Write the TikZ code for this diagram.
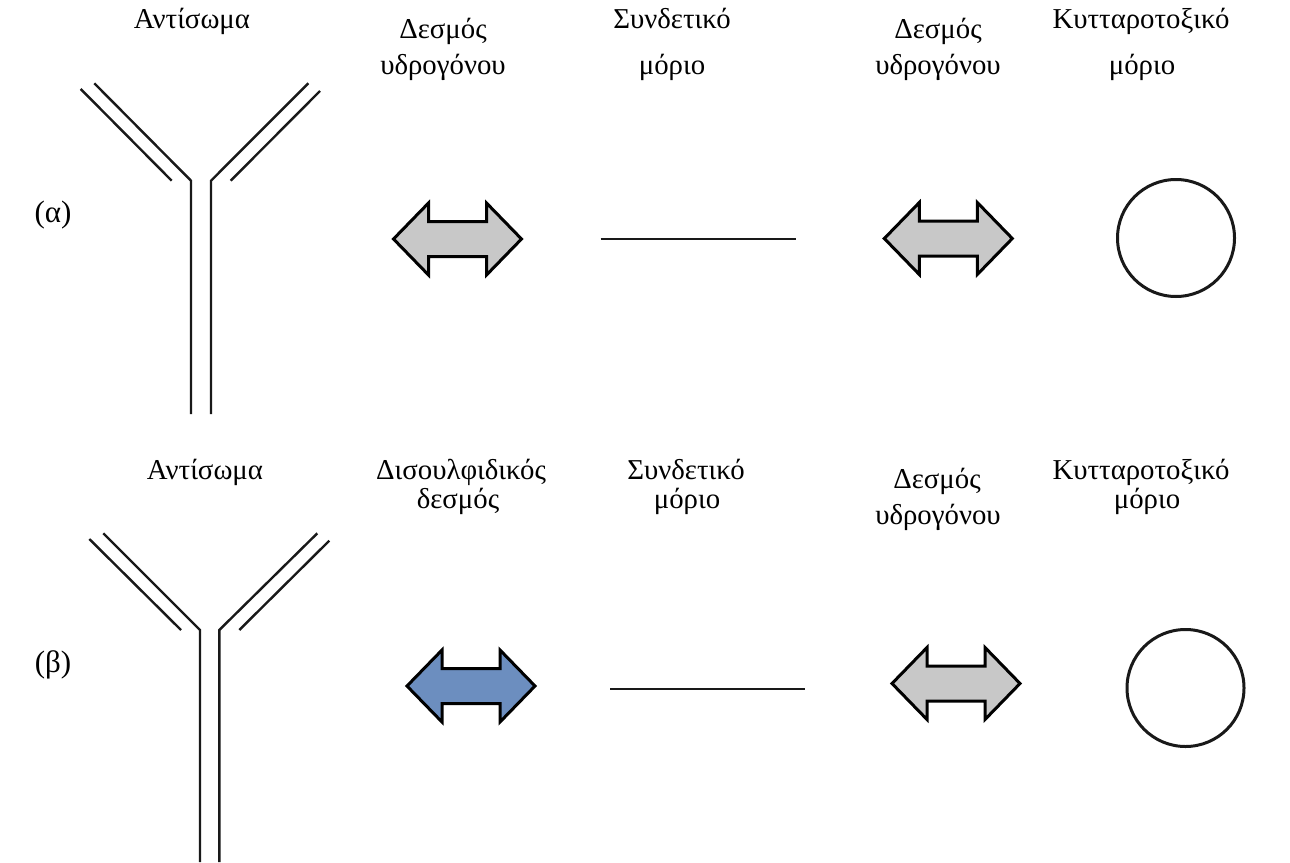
\documentclass[tikz,border=0pt]{standalone}
\usepackage{fontspec}
\setmainfont{Liberation Serif}
\definecolor{arrowgray}{RGB}{200,200,200}
\definecolor{arrowblue}{RGB}{108,142,191}
\tikzset{
  lbl/.style={font=\fontsize{28.8}{34}\selectfont, inner sep=0pt, anchor=base},
  tag/.style={font=\fontsize{31}{36}\selectfont, inner sep=0pt},
  chain/.style={line width=2.4pt, line join=miter, black!90},
  linker/.style={line width=2.2pt, black!90},
  toxin/.style={line width=3pt, black!90},
  pics/dblarrow/.style={code={
    \draw[line width=3pt, line join=miter, fill=#1]
      (-64,0) -- (-29,-36) -- (-29,-17.5) -- (29,-17.5) -- (29,-36) -- (64,0)
      -- (29,36) -- (29,17.5) -- (-29,17.5) -- (-29,36) -- cycle;
  }}
}
\begin{document}
\begin{tikzpicture}[x=1pt, y=-1pt]
\useasboundingbox (0,0) rectangle (1290,862);

% ---- row (alpha) ----
\node[tag] (ta) at (53,215) {(α)};
\node[lbl] (ab1) at (192,28) {Αντίσωμα};
\node[lbl] (hb1a) at (443,38) {Δεσμός};
\node[lbl] (hb1b) at (443,74.5) {υδρογόνου};
\node[lbl] (lk1a) at (672,28) {Συνδετικό};
\node[lbl] (lk1b) at (672,74.5) {μόριο};
\node[lbl] (hb2a) at (938,38) {Δεσμός};
\node[lbl] (hb2b) at (938,74.5) {υδρογόνου};
\node[lbl] (cy1a) at (1141,28) {Κυτταροτοξικό};
\node[lbl] (cy1b) at (1142,74.5) {μόριο};

% antibody
\draw[chain] (80.7,89) -- (171.7,180.7);
\draw[chain] (94.3,83.3) -- (191,180.7) -- (191,414);
\draw[chain] (308.3,83.3) -- (211,180.7) -- (211,414);
\draw[chain] (320,91) -- (230.7,180.7);

\pic at (457.5,239) {dblarrow=arrowgray};
\draw[linker] (600.7,239) -- (796,239);
\pic at (948.3,238.5) {dblarrow=arrowgray};
\draw[toxin] (1176,238) circle (58.5);

% ---- row (beta) ----
\node[tag] (tb) at (53,665) {(β)};
\node[lbl] (ab2) at (205,479) {Αντίσωμα};
\node[lbl] (dsa) at (461,479) {Δισουλφιδικός};
\node[lbl] (dsb) at (458,508.5) {δεσμός};
\node[lbl] (lk2a) at (686,479) {Συνδετικό};
\node[lbl] (lk2b) at (687,508.5) {μόριο};
\node[lbl] (hb3a) at (937,488) {Δεσμός};
\node[lbl] (hb3b) at (938,524.5) {υδρογόνου};
\node[lbl] (cy2a) at (1141,479) {Κυτταροτοξικό};
\node[lbl] (cy2b) at (1147,508.5) {μόριο};

% antibody
\draw[chain] (89.3,539) -- (181,630);
\draw[chain] (103.3,533.3) -- (200,630) -- (200,862);
\draw[chain] (317.3,533.3) -- (219.3,630) -- (219.3,862);
\draw[chain] (329.3,540.7) -- (239.3,630);

\pic at (471,686) {dblarrow=arrowblue};
\draw[linker] (610,689) -- (805,689);
\pic at (956,683.5) {dblarrow=arrowgray};
\draw[toxin] (1185.5,688) circle (58.5);
\end{tikzpicture}
\end{document}
